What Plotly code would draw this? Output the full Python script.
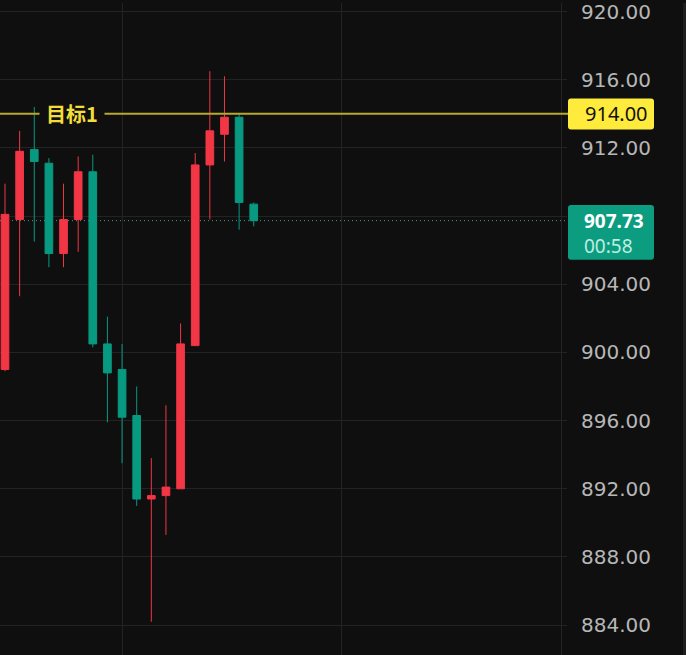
import plotly.graph_objects as go

# ---- data ----
bar_index = list(range(18))
opens  = [899.0, 907.8, 911.9, 911.1, 905.8, 907.8, 910.6, 900.5, 899.0, 896.3, 891.4, 891.6, 892.0, 900.4, 911.0, 912.8, 913.8, 908.7]
highs  = [909.9, 913.0, 914.4, 911.4, 909.9, 911.5, 911.6, 902.1, 900.5, 898.0, 893.8, 896.9, 901.7, 911.7, 916.5, 916.2, 914.0, 908.8]
lows   = [898.9, 903.3, 906.5, 905.0, 905.0, 905.9, 900.3, 895.9, 893.5, 891.0, 884.2, 889.3, 892.0, 900.4, 907.8, 911.2, 907.2, 907.4]
closes = [908.1, 911.8, 911.2, 905.8, 907.8, 910.6, 900.5, 898.8, 896.2, 891.4, 891.6, 892.1, 900.5, 911.0, 913.0, 913.8, 908.8, 907.73]
y_ticks = [884, 888, 892, 896, 900, 904, 908, 912, 916, 920]
hidden_ticks = [908]  # covered by the last-price label
target_price = 914.00
target_label = "目标1"
last_price = 907.73
countdown = "00:58"

# ---- styling ----
BG = "#0f0f0f"
RED = "#f23645"
GREEN = "#089981"
GRID = "#232323"
W, H = 686, 655
PLOT_W = 567

def px_x(px):
    return px / PLOT_W

def px_y(py):
    return 1 - py / H

def rounded_rect(x0, y0, x1, y1, r):
    X = px_x; Y = px_y
    return (f"M {X(x0+r)} {Y(y0)} L {X(x1-r)} {Y(y0)} Q {X(x1)} {Y(y0)} {X(x1)} {Y(y0+r)} "
            f"L {X(x1)} {Y(y1-r)} Q {X(x1)} {Y(y1)} {X(x1-r)} {Y(y1)} "
            f"L {X(x0+r)} {Y(y1)} Q {X(x0)} {Y(y1)} {X(x0)} {Y(y1-r)} "
            f"L {X(x0)} {Y(y0+r)} Q {X(x0)} {Y(y0)} {X(x0+r)} {Y(y0)} Z")

fig = go.Figure(go.Candlestick(
    x=bar_index, open=opens, high=highs, low=lows, close=closes,
    increasing=dict(line=dict(color=RED, width=1), fillcolor=RED),
    decreasing=dict(line=dict(color=GREEN, width=1), fillcolor=GREEN),
    whiskerwidth=0, hoverinfo="skip", showlegend=False,
))

shapes = [
    dict(type="line", xref="paper", yref="y", x0=0, x1=1.002, y0=target_price, y1=target_price,
         line=dict(color="#b8a92c", width=2), layer="above"),
    dict(type="line", xref="paper", yref="y", x0=0, x1=1, y0=last_price, y1=last_price,
         line=dict(color="#55948a", width=1, dash="1px,3px"), layer="below"),
    dict(type="rect", xref="paper", yref="paper", x0=px_x(683), x1=px_x(686), y0=0, y1=1,
         fillcolor="#1e1e1e", line=dict(width=0), layer="above"),
    dict(type="path", xref="paper", yref="paper", path=rounded_rect(568, 96, 654, 127, 3),
         fillcolor="#ffeb3b", line=dict(width=0), layer="above"),
    dict(type="path", xref="paper", yref="paper", path=rounded_rect(568, 203, 654, 258, 3),
         fillcolor="#0c9c7f", line=dict(width=0), layer="above"),
]

annotations = [
    dict(text=f"<b>{target_label}</b>", xref="paper", yref="y", x=px_x(72), y=target_price,
         showarrow=False, bgcolor=BG, borderpad=6, xanchor="center", yanchor="middle",
         font=dict(family="Noto Sans CJK SC", size=20, color="#f2dd3c")),
    dict(text=f"{target_price:.2f}", xref="paper", yref="paper", x=px_x(583), y=px_y(111.5),
         showarrow=False, xanchor="left", yanchor="middle",
         font=dict(family="Noto Sans", size=20, color="#111111")),
    dict(text=(f"<b>{last_price:.2f}</b><br>"
               f"<span style='color:#bdeee2'>{countdown}</span>"),
         xref="paper", yref="paper", x=px_x(582), y=px_y(231.5),
         showarrow=False, xanchor="left", yanchor="middle", align="left",
         font=dict(family="Noto Sans", size=19, color="#ffffff")),
]

fig.update_layout(
    width=W, height=H,
    margin=dict(l=0, r=W - PLOT_W, t=0, b=0),
    paper_bgcolor=BG, plot_bgcolor=BG,
    shapes=shapes, annotations=annotations,
    showlegend=False, hovermode=False, boxgap=0.25,
    xaxis=dict(range=[-0.342, 38.41], tickvals=[8, 23, 38], showticklabels=False,
               showgrid=True, gridcolor=GRID, gridwidth=1, zeroline=False,
               rangeslider=dict(visible=False), showline=False, fixedrange=True),
    yaxis=dict(side="right", range=[882.25, 920.5], tickvals=y_ticks,
               ticktext=["" if v in hidden_ticks else f"{v:.2f}" for v in y_ticks],
               showgrid=True, gridcolor=GRID, gridwidth=1, zeroline=False, showline=False,
               ticks="", ticklabelstandoff=13, ticklabeloverflow="allow",
               tickfont=dict(family="DejaVu Sans", size=20, color="#b7b7b7"), fixedrange=True),
)

fig.write_html("out.html")
